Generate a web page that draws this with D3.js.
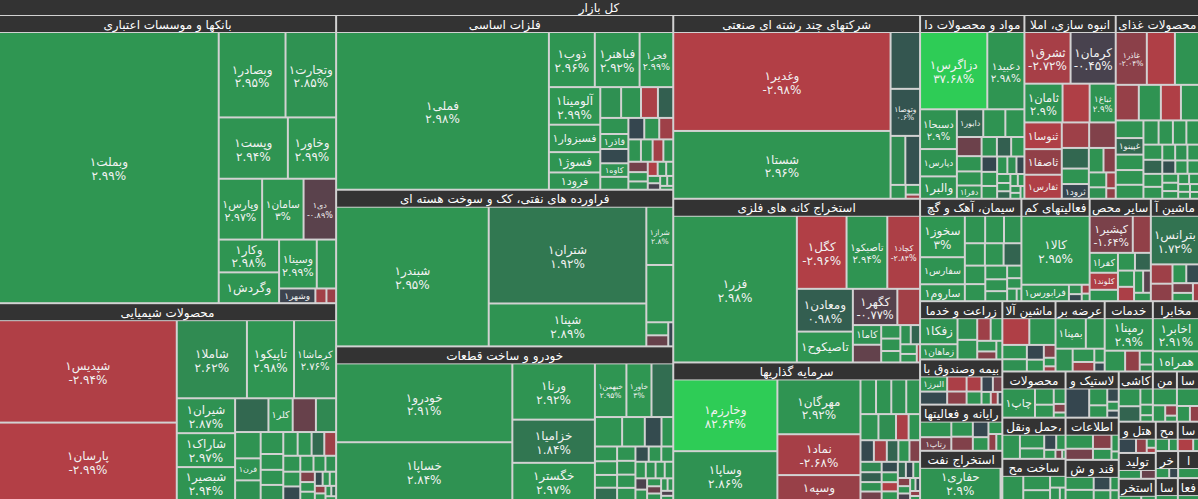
<!DOCTYPE html>
<html><head><meta charset="utf-8">
<script src="https://cdn.jsdelivr.net/npm/d3@7"></script>
<style>body{margin:0;background:#fff}svg{display:block}</style>
</head><body><svg id="c" width="1198" height="499"></svg>
<script>
// ---------- DATA ----------
const title = "کل بازار";
const sectorNames = [
"بانکها و موسسات اعتباری","محصولات شیمیایی","فلزات اساسی","فراورده های نفتی، کک و سوخت هسته ای",
"خودرو و ساخت قطعات","شرکتهای چند رشته ای صنعتی","استخراج کانه های فلزی","سرمایه گذاریها",
"مواد و محصولات دارویی","انبوه سازی، املاک و مستغلات","محصولات غذایی و آشامیدنی به جز قند و شکر",
"سیمان، آهک و گچ","فعالیتهای کمکی به نهادهای مالی واسط","سایر محصولات کانی غیرفلزی","ماشین آلات و تجهیزات",
"زراعت و خدمات وابسته","بیمه وصندوق بازنشستگی به جزتامین اجتماعی","رایانه و فعالیتهای وابسته به آن",
"استخراج نفت گاز و خدمات جنبی جز اکتشاف","ماشین آلات و دستگاههای برقی","عرضه برق، گاز، بخاروآب گرم",
"خدمات فنی و مهندسی","مخابرات","محصولات کاغذی","حمل ونقل، انبارداری و ارتباطات","ساخت محصولات فلزی",
"لاستیک و پلاستیک","اطلاعات و ارتباطات","قند و شکر","کاشی و سرامیک","منسوجات","سایر واسطه گریهای مالی",
"هتل و رستوران","تولید محصولات کامپیوتری الکترونیکی ونوری","استخراج سایر معادن","محصولات چرمی و پوست",
"سایر صنایع","خرده فروشی،باستثنای وسایل نقلیه موتوری","استخراج ذغال سنگ","ساخت دستگاهها و وسایل ارتباطی",
"فعالیت های هنری، سرگرمی و خلاقانه"];
const sectorValues = [96432,65856,58464,52416,51408,45018,40098,33702,19032,16653,15189,10302,6936,6222,4896,
4756,3690,3772,4018,3710,3430,3360,3220,2898,2583,2583,2438,2226,2120,1700,1200,1100,1150,950,780,640,620,600,560,480,460];

// stocks: [name, value, change %]
const banks = [["وبملت",58590,2.99],["وبصادر",5610,2.95],["وتجارت",4250,2.85],["وپست",4170,2.94],["وخاور",2910,2.99],["وپارس",2596,2.97],["سامان",2478,3],["دی",1947,-0.89],["وکار",1947,2.98],["وگردش",1829,2.97],["وسینا",1813,2.99],["وسالت",931,2.9],["وشهر",525,-0.2],["وانصار",160,-2.6],["وآیند",140,-2.4]];
const chemicals = [["شپدیس",18143,-2.94],["پارسان",13718,-2.99],["شاملا",5460,2.62],["تاپیکو",3666,2.98],["کرماشا",3276,2.76],["شیران",2030,2.87],["شاراک",1972,2.97],["شبصیر",1914,2.94],["شفنوری",1122,1.35],["کلر",816,2.99],["شفارس",782,-1.2],["شکلرز",680,2.5],["شگویا",670,2.9],["فرن",561,2.9],["ساینا",500,2.8],["شیراز",495,2.9],["شتوکا",357,2.9],["شسینا",340,2.9],["شکربن",340,2.8],["شاروم",340,2.9],["شصفها",330,2.9],["شغدیر",300,1.4],["شرانل",280,-2.5],["شخارک",270,2.9],["شلعاب",250,2.9],["شبهرن",230,0.2],["شجمی",210,2.9],["شدوص",190,2.9],["شپاکسا",170,2.8],["شفاف",150,-1.8],["شسمی",140,2.9],["شکام",120,2.9],["شنیشا",110,0.3],["شزنگ",100,2.9],["شوینده",90,2.9],["شیپس",80,-2.2],["شملی",70,2.9],["شصدف",60,2.9],["شتهران",50,1.5],["شرنگی",40,2.9]];
const metals = [["فملی",33441,2.98],["ذوب",2520,2.96],["فباهنر",2460,2.92],["فجر",1848,2.99],["آلومینا",1924,2.99],["فسبزوار",1404,2.9],["فسوژ",1040,2.95],["فرود",884,2.9],["ارفع",640,2.8],["فخوز",610,2.9],["فلوله",520,-2.8],["فنورد",470,1.0],["فگستر",450,2.9],["فاذر",420,2.9],["فنفت",400,0.2],["کاوه",380,2.9],["فولاژ",360,2.8],["فسرب",340,0.1],["فامیر",320,2.9],["فروس",300,-2.5],["فالوم",280,2.9],["فکاوه",260,2.9],["فلامی",240,-2.6],["فمراد",220,2.8],["فجام",200,-1.5],["فتوکا",180,2.9],["فنوال",160,2.7],["فپنتا",140,-2.9],["فسپا",120,2.8],["فاسمین",100,2.9],["فزرین",90,2.9],["فرآور",80,-0.4],["فوکا",70,2.9],["فغدیر",60,2.9],["فبیرا",50,2.9]];
const oil = [["شبندر",21280,2.95],["شتران",15229,1.92],["شپنا",6751,2.89],["شراز",1566,2.8],["شبریز",1540,2.9],["شاوان",286,2.9],["شسپا",242,-1.2],["شنفت",120,0.1]];
const auto = [["خودرو",13738,2.91],["خساپا",10063,2.84],["ورنا",4592,2.92],["خزامیا",3526,1.84],["خگستر",3034,2.97],["خبهمن",1672,2.95],["خاور",1330,3],["خموتور",1155,1.5],["خپارس",792,2.9],["خکاوه",660,2.9],["خفنر",486,0.3],["خچرخش",342,2.9],["خمحور",324,2.9],["خکمک",300,2.9],["خریخت",280,2.9],["خرینگ",270,1.5],["خشرق",260,2.9],["خوساز",250,2.8],["ختور",240,2.9],["خلنت",220,2.9],["خعمرا",200,0.4],["خمهر",190,2.9],["خاهن",180,2.9],["ختوقا",170,2.9],["خفولا",160,2.8],["خدیزل",150,2.9],["خنصیر",140,2.9],["خکرمان",130,-0.5],["ختراک",120,2.9],["خپویش",110,2.9],["خصدرا",100,-1.2],["خزر",90,2.9],["خمحرکه",80,2.9],["خبنیان",70,2.9],["خرول",60,-0.6],["خفناور",50,2.9]];
const multi = [["وغدیر",21572,-2.98],["شستا",14783,2.96],["وصنعت",1682,0.7],["وتوصا",1392,0.6],["وپاسار",725,2.6],["وتوسم",725,0.5],["رتکو",210,2.9],["وسپهر",140,2.9],["وآذر",60,-2.5]];
const mining = [["فزر",18228,2.98],["کگل",3650,-2.96],["تاصیکو",2993,2.94],["کچاد",2409,-2.84],["ومعادن",2408,0.98],["تاصیکوح",1736,2.97],["کگهر",1620,-0.77],["کروی",828,-2.6],["کاما",560,2.8],["کمنگنز",504,-1.1],["کبافق",260,2.9],["کمینا",240,2.9],["کخاک",220,2.9],["کزاگرس",200,2.8],["کهمدا",180,1.2],["کسرام",160,2.9],["کپارس",140,2.9],["کیسون",60,-2.7]];
const invest = [["وخارزم",7488,82.64],["وساپا",5096,2.86],["مهرگان",4565,2.92],["نماد",3403,-2.68],["وسپه",2075,-2.35],["وبوعلی",540,2.9],["ونیکی",530,2.9],["وامید",520,2.8],["وسکاب",480,2.9],["وصندوق",470,2.9],["ومدیر",460,2.7],["وآتوس",330,-2.8],["وسمگا",300,2.9],["واتی",290,0.2],["ومشان",280,-2.6],["وبانک",250,1.2],["وسخراج",240,2.9],["وکغدیر",230,-1.8],["وسکرد",220,2.5],["وسپاه",210,1.0],["وسنا",200,2.8],["وسکرمان",180,-1.5],["وملت",170,0.3],["واعتبار",160,2.9],["ویسا",150,-2.9],["وسیزد",140,2.9],["وگستر",130,1.3],["وسمازن",120,0.1],["وتوکا",110,2.9],["وسبوشه",100,-1.9],["وسگیلا",90,2.9],["وسهمدا",80,-0.5],["وسقم",70,2.9],["وسکهبو",60,0.2],["وسزنجا",50,-2.2],["وسفارس",40,2.9]];
const pharma = [["دزاگرس",5226,37.68],["دعبید",2886,2.98],["دسبحا",1472,2.9],["دپارس",1012,2.9],["والبر",828,2.9],["دابور",736,1.2],["دفارا",616,2.9],["دکوثر",532,2.9],["دتماد",476,-1.3],["دلقما",380,2.9],["دکیمی",350,2.9],["دفرا",330,2.9],["دشیمی",300,2.8],["دسینا",280,1.0],["دکپسول",260,2.9],["دامین",240,0.1],["دتولید",220,2.9],["دزهراوی",200,2.9],["دجابر",180,2.9],["دالبر",160,2.7],["دبالک",140,0.2],["دحاوی",120,2.9],["درازک",110,2.9],["دلر",100,1.3],["دکیسون",90,2.9],["دشفا",80,2.9],["داسوه",70,2.8],["دیران",60,2.9],["دپادا",50,2.9]];
const mass = [["ثشرق",2392,-2.72],["کرمان",2340,-0.45],["ثامان",1482,2.9],["وساخت",1053,-2.9],["ثباغ",1014,2.9],["ثنوسا",1000,-2.9],["ثاصفا",960,-2.2],["ثفارس",900,-2.9],["ثعمرا",700,-2.5],["ثاخت",680,-1.8],["ثپردیس",560,1.3],["ثالوند",420,2.9],["ثرود",400,0.1],["ثتران",360,2.9],["ثمسکن",300,-1.9],["آسیاتک",260,2.9],["ثاژن",200,2.8],["ثزاگرس",150,-2.5],["ثقزوی",100,-2.2]];
const food = [["غاذر",1612,-2.04],["غبهنوش",1456,-2.9],["غکورش",1248,2.9],["غمینو",805,-2.3],["غگل",770,2.9],["غپاک",700,-2.9],["غدام",630,2.9],["غشهد",480,2.9],["غپینو",450,1.3],["غسالم",420,2.9],["غمارگ",400,2.9],["غنوش",380,2.9],["غشصفا",360,2.8],["غزر",340,2.9],["غچین",320,2.9],["غدشت",300,2.9],["غالبر",280,2.9],["غگلپا",260,1.2],["غشان",240,2.9],["غنیلی",220,2.9],["غپآذر",200,2.9],["غبشهر",190,2.8],["غفارس",180,2.9],["غرب",170,0.4],["غگیلا",160,2.9],["غویتا",150,2.9],["غاریو",140,2.9],["غصینو",130,2.9],["غمهرا",120,2.9],["غکشت",110,2.9],["غدیس",100,2.9],["غشاذر",90,2.9],["غگرجی",80,2.9],["غپونه",70,2.9],["غبهار",60,2.9]];
const cement = [["سخوز",1862,3],["سفارس",1216,2.9],["ساروم",760,2.9],["سخاش",560,2.9],["سشمال",520,2.9],["سصوفی",480,2.8],["ساربیل",450,2.9],["سکرما",420,2.9],["سدور",400,1.2],["سبهان",380,2.9],["سفار",350,2.9],["سهگمت",300,2.9],["سغرب",260,2.9],["سشرق",220,2.8],["سیتا",180,2.9],["سبجنو",150,2.9],["سقاین",120,2.9],["سکارون",60,2.9]];
const support = [["کالا",4692,2.95],["فرابورس",780,2.9],["بورس",120,2.7],["کارا",90,0.1],["نهاد",70,-2.5],["اطلس",60,2.9]];
const nonmetal = [["کپشیر",1591,-1.64],["کساوه",666,-2.2],["کفرا",560,2.9],["کلوند",480,-2.9],["کاذر",320,2.9],["کتاژ",300,2.9],["کصدف",280,1.2],["کمرجان",260,2.9],["کهرام",230,-2.8],["کفپارس",200,2.9],["کرازی",170,-0.8],["کابگن",140,2.9]];
const machinery = [["بترانس",2352,1.72],["تکمبا",420,-2.5],["تپمپی",380,-2.1],["تمحرکه",260,2.9],["تپکو",240,0.3],["تایرا",200,-1.5],["تجلی",170,2.9],["تفیرو",110,-2.6]];
const agri = [["زفکا",960,2.9],["زماهان",560,2.9],["زکشت",420,2.8],["زشریف",380,2.9],["زملارد",300,-2.5],["زگلدشت",260,2.9],["زدشت",200,2.9],["زبینا",150,-1.9],["زقیام",110,2.9]];
const insurance = [["البرز",420,2.9],["ومعلم",360,0.2],["اتکای",300,-2.8],["وبیمه",260,-2.1],["بپاس",230,-2.8],["دانا",200,2.9],["کوثر",180,0.0],["بساما",150,-1.5],["بملت",120,2.9],["ودانا",90,-2.5],["بنو",60,0.3]];
const computer = [["سیستم",480,2.9],["رتاپ",420,-1.5],["مداران",320,2.9],["سپیدار",300,-1.8],["رافزا",240,0.1],["توسن",210,2.9],["فناوا",170,2.9],["مفاخر",130,-2.2],["ماهان",100,2.9]];
const oilx = [["حفاری",2640,2.9],["اوان",60,2.9]];
const elec = [["بشهاب",720,-2.9],["بموتو",700,2.9],["بکاب",350,2.9],["بالبر",300,2.8],["بنیرو",250,0.1],["بایکا",200,2.9],["بسویچ",150,-1.8],["بتک",100,2.9],["بفجر",60,-2.5]];
const power = [["بمپنا",900,2.9],["بزاگرس",560,2.9],["بکهنوج",380,2.8],["بگیلان",280,2.9],["بجهرم",200,-2.4],["بپیوند",140,2.9],["بخاور",90,0.2]];
const tech = [["رمپنا",1550,2.9],["وتوس",420,2.9],["ساپا",300,-2.2],["مهندس",180,2.9],["طرح",90,2.8]];
const telecom = [["اخابر",1518,2.91],["همراه",920,2.9]];
const paper = [["چاپ",940,2.9],["چکاپا",300,2.9],["چفیبر",240,2.9],["چکارن",180,2.8],["چکاوه",100,-1.8],["چدن",60,2.9]];
const transport = [["حکشتی",420,2.9],["حتاید",330,2.9],["حپارسا",250,2.9],["حسینا",180,0.1],["حآسا",140,2.9],["حریل",100,2.9],["حفارس",60,-1.5],["حسیر",30,2.9]];
const metalman = [["فسازان",500,2.9],["فجهان",380,2.9],["فافزا",260,2.9],["فاراک",180,2.9],["فتوسا",120,2.9],["فمکو",70,2.9]];
const rubber = [["پکرمان",680,0.1],["پلاسک",300,2.9],["پارتا",220,2.9],["پدرخش",150,0.2],["پسهند",100,2.9],["پتایر",80,0.1]];
const infotech = [["اپرداز",380,2.9],["اسیستم",300,-1.5],["افق",260,-1.9],["آپ",200,2.9],["اعتلا",120,2.9],["اتکام",60,2.9]];
const sugar = [["قثابت",360,2.9],["قشکر",280,2.9],["قنیشا",220,0.2],["قزوین",160,2.9],["قپیرا",110,2.9],["قلرست",80,2.9]];
const tile = [["کسرا",380,2.9],["کساپا",330,1.2],["کنیلو",200,2.9],["کحافظ",130,2.9],["کسعدی",80,2.9]];
const textile = [["نساز",400,2.9],["نخریس",200,2.9],["نپاک",120,-2.1],["نطرین",70,2.9]];
const otherfin = [["ولساپا",380,2.9],["ولصنم",200,2.9],["وکبهمن",140,-2.2]];
const hotel = [["گکیش",420,0.1],["گشان",260,-2.2],["گدنا",140,2.9],["گتوسع",80,-2.8]];
const compman = [["مادیرا",420,2.9],["رکیش",280,-1.2]];
const mineother = [["کترام",340,2.9],["کگاز",220,2.8]];
const leather = [["بچرم",300,2.9],["بکفش",200,2.9]];
const otherind = [["سصنعت",400,-2.9],["سکرد",150,2.9]];
const retail = [["افرا",300,2.9],["اتوکو",200,0.1]];
const coal = [["کزغال",400,2.9]];
const comms = [["تکتم",330,2.9]];
const culture = [["هنرکده",300,2.9]];
const sectorStocks = [banks,chemicals,metals,oil,auto,multi,mining,invest,pharma,mass,food,cement,support,nonmetal,machinery,
agri,insurance,computer,oilx,elec,power,tech,telecom,paper,transport,metalman,rubber,infotech,sugar,tile,textile,otherfin,
hotel,compman,mineother,leather,otherind,retail,coal,comms,culture];

// ---------- DRAW ----------
const W = 1198, H = 499, HEAD = 16;
const FONT = '"DejaVu Sans", sans-serif';
const rootRatio = 1.45;
// squarify aspect target per sector (layout style only)
const tileRatioFor = i => ({2: 1.7, 3: 1.75, 4: 1.6, 5: 1.75, 7: 1.85})[i] || 1.45;
const svg = d3.select("#c").style("font-family", FONT);
const color = d3.scaleLinear().domain([-3, 0, 3, 6])
  .range(["#b33f46", "#35434f", "#2f9652", "#2ecc56"]).clamp(true);
const cv = document.createElement("canvas").getContext("2d");
const tw = (t, f) => { cv.font = f + "px " + FONT; return cv.measureText(t).width; };
const fa = s => s.replace(/[0-9]/g, d => "۰۱۲۳۴۵۶۷۸۹"[+d]);
const fmt = c => fa(d3.format(".2~f")(c).replace("−", "-")) + "%";

svg.append("rect").attr("width", W).attr("height", H).attr("fill", "#d2d2d2");
svg.append("rect").attr("width", W).attr("height", 15).attr("fill", "#333333");
svg.append("text").attr("x", W / 2).attr("y", 12).attr("text-anchor", "middle")
  .attr("fill", "#fff").attr("font-size", 12).text(title);

const rootNode = d3.hierarchy({children: sectorNames.map((n, i) => ({name: n, value: sectorValues[i], idx: i}))})
  .sum(d => d.children ? 0 : d.value);
d3.treemap().tile(d3.treemapSquarify.ratio(rootRatio)).size([W, H]).paddingTop(16).paddingInner(2)(rootNode);

function label(g, x0, y0, w, h, name, change) {
  const nm = name + "۱", pc = fmt(change);
  let f = null, both = false;
  if (h >= 29) {
    for (let z = 12; z >= 7.5; z -= 0.5) {
      if (Math.max(tw(nm, z), tw(pc, z)) <= w - 4 && 2.5 * z <= h) { f = z; both = true; break; }
    }
  }
  if (!f) for (let z = 12; z >= 8; z -= 0.5) {
    if (tw(nm, z) <= w - 4 && 1.25 * z <= h - 1) { f = z; break; }
  }
  if (!f) return;
  const cx = x0 + w / 2, cy = y0 + h / 2, y1 = y0 + h;
  const txt = (y, s) => g.append("text").attr("x", cx).attr("y", y).attr("text-anchor", "middle")
    .attr("fill", "#f2f2f2").attr("font-size", f).text(s);
  if (both) {
    let ny = cy - 0.1 * f, py = ny + 1.15 * f;
    const over = py + 0.25 * f - (y1 - 1);
    if (over > 0) { ny -= over; py -= over; }
    const under = (y0 + 1) - (ny - 0.95 * f);
    if (under > 0) { ny += under; py += under; }
    txt(ny, nm); txt(py, pc);
  } else {
    txt(cy + 0.35 * f, nm);
  }
}

rootNode.children.forEach(s => {
  const g = svg.append("g");
  const sw = s.x1 - s.x0;
  const ih = s.y1 - s.y0 - HEAD - 1;
  const stocks = sectorStocks[s.data.idx];
  const sub = d3.hierarchy({children: stocks.map(([n, v, c]) => ({name: n, value: v, change: c}))})
    .sum(d => d.children ? 0 : d.value);
  if (ih > 0) {
    d3.treemap().tile(d3.treemapSquarify.ratio(tileRatioFor(s.data.idx))).size([sw, ih]).paddingInner(2)(sub);
    const ox = s.x0, oy = s.y0 + HEAD + 1;
    sub.leaves().forEach(l => {
      const x0 = ox + l.x0, y0 = oy + l.y0, w = l.x1 - l.x0, h = l.y1 - l.y0;
      if (w <= 0 || h <= 0) return;
      g.append("rect").attr("x", x0).attr("y", y0).attr("width", w).attr("height", h)
        .attr("fill", color(l.data.change));
      label(g, x0, y0, w, h, l.data.name, l.data.change);
    });
  }
  g.append("rect").attr("x", s.x0).attr("y", s.y0).attr("width", sw).attr("height", Math.min(HEAD, s.y1 - s.y0))
    .attr("fill", "#333333");
  let t = s.data.name;
  while (t.length > 0 && tw(t, 12) > sw - 2) t = t.slice(0, -1);
  g.append("text").attr("x", s.x0 + sw / 2).attr("y", s.y0 + 12.5).attr("text-anchor", "middle")
    .attr("fill", "#fff").attr("font-size", 12).text(t.trim());
});
</script></body></html>
